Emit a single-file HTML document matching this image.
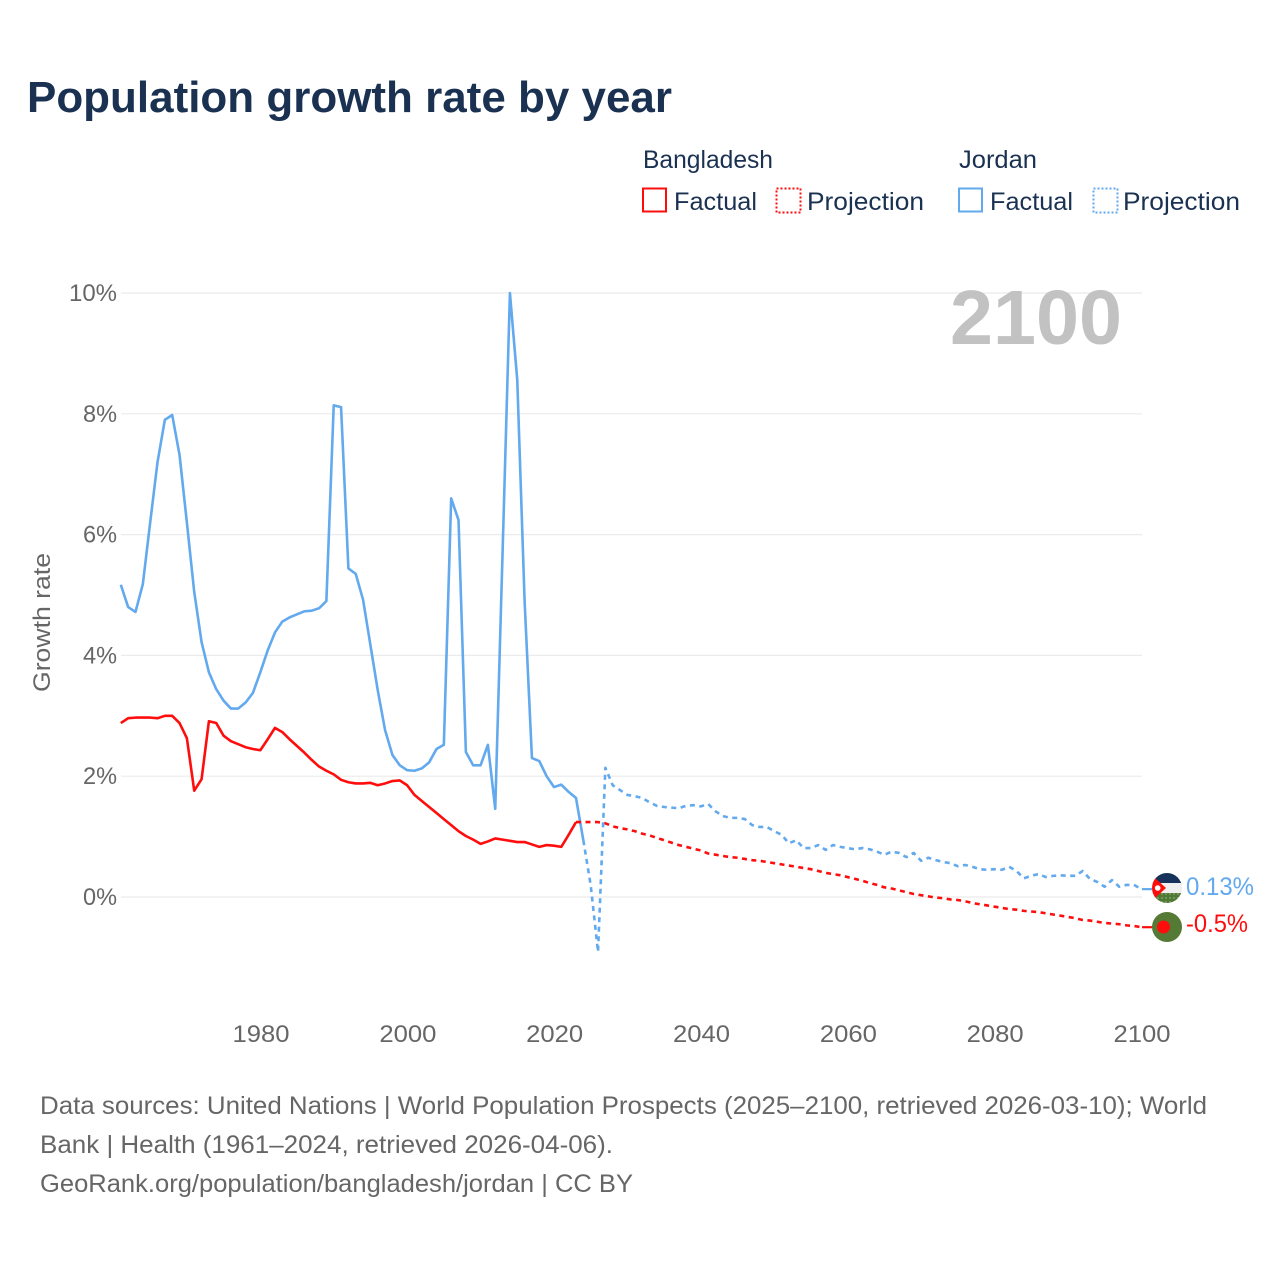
<!DOCTYPE html>
<html lang="en">
<head>
<meta charset="utf-8">
<title>Population growth rate by year</title>
<style>
html,body{margin:0;padding:0;background:#fff;}
svg{display:block;font-family:"Liberation Sans",sans-serif;}
</style>
</head>
<body>
<svg id="chart" xmlns="http://www.w3.org/2000/svg" width="1280" height="1280" viewBox="0 0 1280 1280">
  <rect x="0" y="0" width="1280" height="1280" fill="#fff"/>
  <text x="27" y="112" font-size="44" font-weight="bold" fill="#1a3152" textLength="645" lengthAdjust="spacingAndGlyphs">Population growth rate by year</text>

  <g font-size="25" fill="#1a3152">
    <text x="643" y="168" textLength="130" lengthAdjust="spacingAndGlyphs">Bangladesh</text>
    <text x="959" y="168" textLength="78" lengthAdjust="spacingAndGlyphs">Jordan</text>
    <rect x="643" y="188.5" width="23" height="23" fill="none" stroke="#ff0d0d" stroke-width="2"/>
    <text x="674" y="210" textLength="83" lengthAdjust="spacingAndGlyphs">Factual</text>
    <rect x="776.5" y="188.5" width="24" height="24" fill="none" stroke="#ff0d0d" stroke-width="2" stroke-dasharray="2 2"/>
    <text x="807" y="210" textLength="117" lengthAdjust="spacingAndGlyphs">Projection</text>
    <rect x="959" y="188.5" width="23" height="23" fill="none" stroke="#62a9ee" stroke-width="2"/>
    <text x="990" y="210" textLength="83" lengthAdjust="spacingAndGlyphs">Factual</text>
    <rect x="1093.5" y="188.5" width="24" height="24" fill="none" stroke="#62a9ee" stroke-width="2" stroke-dasharray="2 2"/>
    <text x="1123" y="210" textLength="117" lengthAdjust="spacingAndGlyphs">Projection</text>
  </g>

  <g id="grid"></g>
  <g id="yticks"></g>
  <g id="xticks"></g>
  <text transform="translate(50,622.5) rotate(-90)" text-anchor="middle" font-size="24" fill="#666" textLength="139" lengthAdjust="spacingAndGlyphs">Growth rate</text>
  <text x="950" y="344" font-size="77" font-weight="bold" fill="#c2c2c2" textLength="172" lengthAdjust="spacingAndGlyphs">2100</text>

  <g id="series"></g>

  <defs>
    <clipPath id="clip-jo"><circle cx="1167" cy="888" r="15"/></clipPath>
    <clipPath id="clip-bd"><circle cx="1167" cy="927" r="15"/></clipPath>
    <pattern id="dots" width="4" height="4" patternUnits="userSpaceOnUse"><rect width="4" height="4" fill="#4f7a34"/><circle cx="2" cy="2" r="0.7" fill="#a9bd97"/></pattern>
  </defs>
  <g clip-path="url(#clip-jo)">
    <rect x="1152" y="873" width="30" height="11" fill="#17325a"/>
    <rect x="1152" y="883" width="30" height="11" fill="#efefef"/>
    <rect x="1152" y="893" width="30" height="10" fill="url(#dots)"/>
    <polygon points="1144,868 1166,888 1144,908" fill="#ff0d0d"/>
    <circle cx="1157.7" cy="888" r="2.8" fill="#fff"/>
  </g>
  <g clip-path="url(#clip-bd)">
    <rect x="1152" y="912" width="30" height="30" fill="#557a35"/>
    <circle cx="1163.5" cy="927" r="6.5" fill="#ff0d0d"/>
  </g>
  <text id="label-jo" x="1186" y="895" font-size="25" fill="#62a9ee" textLength="68" lengthAdjust="spacingAndGlyphs">0.13%</text>
  <text id="label-bd" x="1186" y="932" font-size="25" fill="#ff0d0d" textLength="62" lengthAdjust="spacingAndGlyphs">-0.5%</text>

  <g font-size="25" fill="#666">
    <text x="40" y="1114" textLength="1167" lengthAdjust="spacingAndGlyphs">Data sources: United Nations | World Population Prospects (2025–2100, retrieved 2026-03-10); World</text>
    <text x="40" y="1153" textLength="573" lengthAdjust="spacingAndGlyphs">Bank | Health (1961–2024, retrieved 2026-04-06).</text>
    <text x="40" y="1192" textLength="593" lengthAdjust="spacingAndGlyphs">GeoRank.org/population/bangladesh/jordan | CC BY</text>
  </g>
</svg>
<script>
const yTickValues = [0, 2, 4, 6, 8, 10];
const xTickYears = [1980, 2000, 2020, 2040, 2060, 2080, 2100];

const bangladeshFactualStart = 1961;
const bangladeshFactual = [2.88,2.96,2.97,2.97,2.97,2.96,3.0,3.0,2.88,2.63,
  1.76,1.95,2.91,2.88,2.67,2.58,2.53,2.48,2.45,2.43,
  2.61,2.80,2.73,2.61,2.5,2.39,2.27,2.16,2.09,2.03,
  1.94,1.9,1.88,1.88,1.89,1.85,1.88,1.92,1.93,1.85,
  1.69,1.59,1.49,1.39,1.29,1.19,1.09,1.01,0.95,0.88,
  0.92,0.97,0.95,0.93,0.91,0.91,0.87,0.83,0.86,0.85,
  0.83,1.03,1.24];

const bangladeshProjectionStart = 2023;
const bangladeshProjection = [1.24,1.24,1.24,1.24,1.22,1.17,1.14,1.12,1.09,1.05,
  1.02,0.98,0.94,0.90,0.86,0.83,0.80,0.77,0.72,0.70,
  0.68,0.66,0.65,0.63,0.61,0.60,0.58,0.56,0.54,0.52,
  0.50,0.48,0.46,0.43,0.40,0.38,0.36,0.33,0.30,0.27,
  0.23,0.20,0.16,0.14,0.11,0.08,0.05,0.03,0.01,-0.01,
  -0.02,-0.04,-0.05,-0.07,-0.10,-0.12,-0.14,-0.16,-0.18,-0.20,
  -0.21,-0.23,-0.24,-0.25,-0.27,-0.29,-0.31,-0.33,-0.35,-0.38,
  -0.39,-0.41,-0.43,-0.44,-0.45,-0.47,-0.48,-0.50];

const jordanFactualStart = 1961;
const jordanFactual = [5.17,4.80,4.72,5.18,6.2,7.2,7.9,7.98,7.32,6.2,
  5.05,4.22,3.72,3.44,3.25,3.12,3.12,3.22,3.38,3.72,
  4.08,4.38,4.56,4.63,4.68,4.73,4.74,4.78,4.9,8.14,
  8.11,5.44,5.35,4.92,4.17,3.42,2.76,2.35,2.18,2.1,
  2.09,2.13,2.23,2.45,2.52,6.6,6.24,2.4,2.18,2.18,
  2.52,1.46,5.7,10,8.56,4.9,2.3,2.25,2.0,1.82,
  1.86,1.74,1.64,0.94];

const jordanProjectionStart = 2024;
const jordanProjection = [0.94,0.2,-0.91,2.14,1.85,1.77,1.69,1.67,1.64,1.57,
  1.51,1.49,1.48,1.47,1.51,1.52,1.50,1.54,1.42,1.34,
  1.31,1.31,1.29,1.19,1.16,1.16,1.09,1.03,0.89,0.94,
  0.81,0.81,0.86,0.78,0.86,0.83,0.81,0.79,0.81,0.79,
  0.75,0.70,0.75,0.73,0.66,0.73,0.60,0.65,0.61,0.58,
  0.56,0.51,0.53,0.50,0.46,0.45,0.46,0.45,0.50,0.43,
  0.31,0.35,0.38,0.33,0.35,0.36,0.35,0.35,0.43,0.30,
  0.25,0.17,0.28,0.17,0.20,0.20,0.13];

const NS = 'http://www.w3.org/2000/svg';
function xScale(year) { return 261 + (year - 1980) * (1142 - 261) / 120; }
function xMark(year) { return xScale(year) - 0.7; }
function yScale(v) { return 897 - v * 60.4; }
function points(start, values) {
  return values.map(function (v, i) { return xMark(start + i).toFixed(2) + ',' + yScale(v).toFixed(2); }).join(' ');
}
function make(tag, attrs, parent) {
  const el = document.createElementNS(NS, tag);
  for (const k in attrs) el.setAttribute(k, attrs[k]);
  parent.appendChild(el);
  return el;
}

const grid = document.getElementById('grid');
const yticks = document.getElementById('yticks');
yTickValues.forEach(function (v) {
  const line = make('line', { x1: 121, x2: 1142, y1: yScale(v), y2: yScale(v), stroke: '#ebebeb', 'stroke-width': 1.2 }, grid);
  
  
  const t = make('text', { x: 117, y: yScale(v) + 8, 'text-anchor': 'end', 'font-size': 24, fill: '#666', textLength: v >= 10 ? 48 : 34, lengthAdjust: 'spacingAndGlyphs' }, yticks);
  t.textContent = v + '%';
  
  
});

const xticks = document.getElementById('xticks');
xTickYears.forEach(function (yr) {
  const t = make('text', { x: xScale(yr), y: 1042, 'text-anchor': 'middle', 'font-size': 24, fill: '#666', textLength: 57, lengthAdjust: 'spacingAndGlyphs' }, xticks);
  t.textContent = String(yr);
  
  
});

const series = document.getElementById('series');
const lineBase = { fill: 'none', 'stroke-width': 2.6, 'stroke-linejoin': 'round' };
function drawLine(start, values, color, dashed) {
  const attrs = Object.assign({}, lineBase, { points: points(start, values), stroke: color });
  if (dashed) attrs['stroke-dasharray'] = '5 4.5';
  return make('polyline', attrs, series);
}

const jf = drawLine(jordanFactualStart, jordanFactual, '#62a9ee', false);


const jp = drawLine(jordanProjectionStart, jordanProjection, '#62a9ee', true);


const bf = drawLine(bangladeshFactualStart, bangladeshFactual, '#ff0d0d', false);


const bp = drawLine(bangladeshProjectionStart, bangladeshProjection, '#ff0d0d', true);



const jLast = jordanProjection[jordanProjection.length - 1];
const bLast = bangladeshProjection[bangladeshProjection.length - 1];
const jc = make('line', { x1: xScale(2100), x2: 1153, y1: yScale(jLast), y2: yScale(jLast), stroke: '#62a9ee', 'stroke-width': 2.2 }, series);


const bc = make('line', { x1: xScale(2100), x2: 1153, y1: yScale(bLast), y2: yScale(bLast), stroke: '#ff0d0d', 'stroke-width': 2.2 }, series);


</script>
</body>
</html>
